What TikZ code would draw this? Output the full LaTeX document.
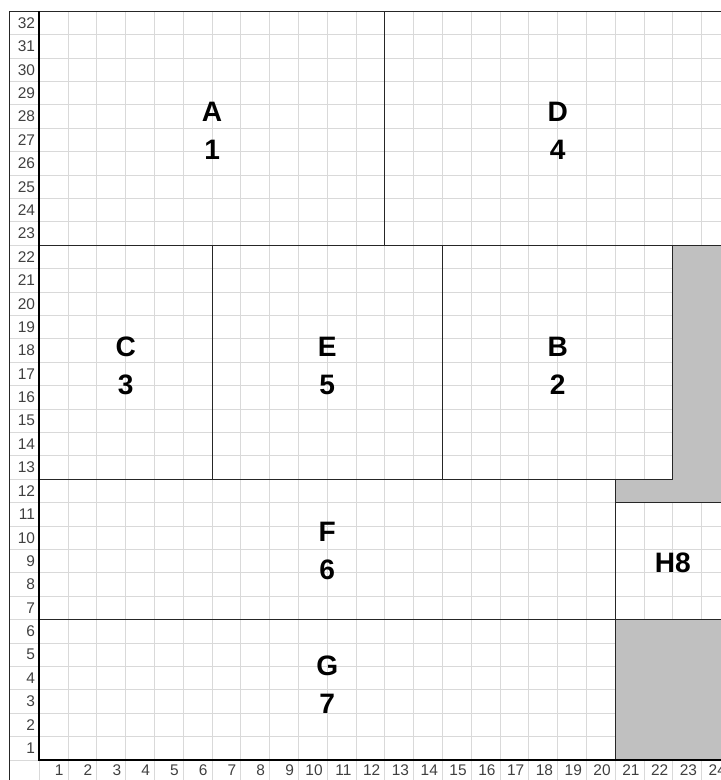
\documentclass[tikz,border=0pt]{standalone}
\usepackage{fontspec}
\setmainfont{Liberation Sans}
\usetikzlibrary{positioning}
\definecolor{gridgrey}{HTML}{D9D9D9}
\definecolor{blockgrey}{HTML}{C0C0C0}
\definecolor{numgrey}{HTML}{404040}

\begin{document}
\begin{tikzpicture}[x=0.72cm,y=0.585cm,
    gridline/.style={gridgrey,line width=0.6pt},
    wall/.style={black!85,line width=0.7pt},
    axisline/.style={black,line width=1.4pt},
    blocklabel/.style={font=\fontsize{20}{27}\selectfont\bfseries,align=center},
    rownum/.style={font=\fontsize{11}{11}\selectfont,text=numgrey,anchor=east,inner sep=0pt},
    colnum/.style={font=\fontsize{11}{11}\selectfont,text=numgrey,anchor=east,inner sep=0pt}]
    \useasboundingbox (-1.365,-0.855) rectangle (23.67,32.48);
    \clip (-1.365,-0.855) rectangle (23.67,32.48);

    \foreach \i in {0,...,23} \draw[gridline] (\i,-0.855) -- (\i,32);
    \foreach \j in {0,...,31} \draw[gridline] (-1.04,\j) -- (23.67,\j);

    \fill[blockgrey] (22,12) rectangle (23.67,22);
    \fill[blockgrey] (20,11) rectangle (23.67,12);
    \fill[blockgrey] (20,0) rectangle (23.67,6);

    \draw[wall] (-1.04,-0.855) -- (-1.04,32) -- (23.67,32);
    \draw[wall] (12,32) -- (12,22);
    \draw[wall] (0,22) -- (23.67,22);
    \draw[wall] (6,22) -- (6,12);
    \draw[wall] (14,22) -- (14,12);
    \draw[wall] (22,22) -- (22,12);
    \draw[wall] (0,12) -- (22,12);
    \draw[wall] (20,12) -- (20,0);
    \draw[wall] (20,11) -- (23.67,11);
    \draw[wall] (0,6) -- (23.67,6);
    \draw[axisline] (0,32) -- (0,0) -- (23.67,0);

    \node[blocklabel] (A) at (6,26.9) {A\\1};
    \node[blocklabel] (D) at (18,26.9) {D\\4};
    \node[blocklabel] (C) at (3,16.85) {C\\3};
    \node[blocklabel] (E) at (10,16.85) {E\\5};
    \node[blocklabel] (B) at (18,16.85) {B\\2};
    \node[blocklabel] (F) at (10,8.92) {F\\6};
    \node[blocklabel] (G) at (10,3.2) {G\\7};
    \node[blocklabel] (H) at (22,8.43) {H8};

    \foreach \j in {1,...,32} \node[rownum] (r\j) at (-0.14,\j-0.5) {\j};
    \foreach \i in {1,...,24} \node[colnum] (c\i) at (\i-0.15,-0.42) {\i};
\end{tikzpicture}
\end{document}
